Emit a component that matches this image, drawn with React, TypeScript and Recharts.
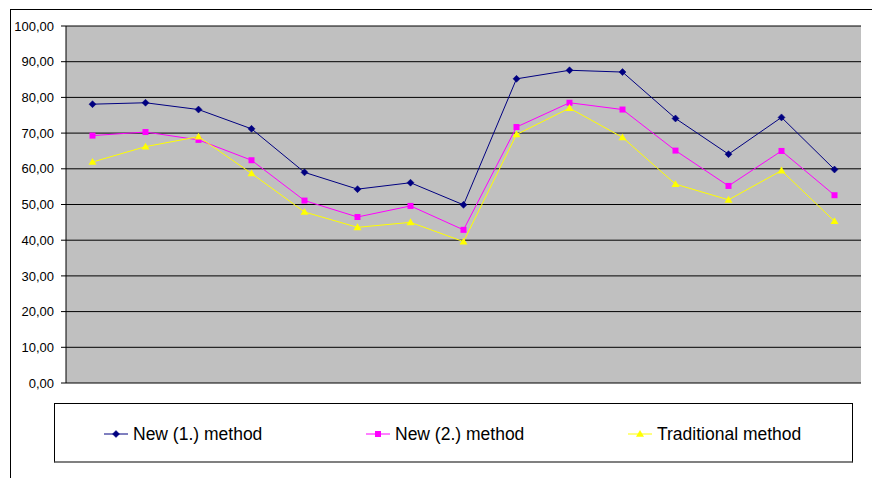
import React from 'react';
import { LineChart, Line, XAxis, YAxis, CartesianGrid, Legend, Customized } from 'recharts';

const categories = ['1', '2', '3', '4', '5', '6', '7', '8', '9', '10', '11', '12', '13', '14', '15'];
const new1 = [78.1, 78.5, 76.6, 71.2, 59.0, 54.3, 56.1, 49.9, 85.2, 87.6, 87.1, 74.1, 64.1, 74.4, 59.8];
const new2 = [69.3, 70.3, 68.1, 62.4, 51.1, 46.5, 49.6, 42.9, 71.7, 78.5, 76.6, 65.1, 55.2, 65.0, 52.6];
const traditional = [61.9, 66.2, 69.0, 58.7, 47.9, 43.6, 45.0, 39.6, 69.6, 77.0, 68.8, 55.7, 51.3, 59.5, 45.3];
const yTicks = [0, 10, 20, 30, 40, 50, 60, 70, 80, 90, 100];
const seriesNames = ['New (1.) method', 'New (2.) method', 'Traditional method'];
const seriesColors = ['#000080', '#FF00FF', '#FFFF00'];

const data = categories.map((c, i) => ({ cat: c, a: new1[i], b: new2[i], c: traditional[i] }));

const FONT = '"Liberation Sans", Arial, sans-serif';

const Diamond = (props: any) => {
  const { cx, cy, fill } = props;
  if (cx == null || cy == null) return null;
  const r = 3.5;
  return <path d={`M${cx},${cy - r}L${cx + r},${cy}L${cx},${cy + r}L${cx - r},${cy}Z`} fill={fill} stroke={fill} strokeWidth={0.5} />;
};
const Square = (props: any) => {
  const { cx, cy, fill } = props;
  if (cx == null || cy == null) return null;
  const r = 3;
  return <rect x={cx - r} y={cy - r} width={2 * r} height={2 * r} fill={fill} />;
};
const Triangle = (props: any) => {
  const { cx, cy, fill } = props;
  if (cx == null || cy == null) return null;
  const r = 4;
  return <path d={`M${cx},${cy - r}L${cx + r},${cy + r * 0.7}L${cx - r},${cy + r * 0.7}Z`} fill={fill} />;
};
const markers = [Diamond, Square, Triangle];

const LegendContent = () => (
  <div
    style={{
      boxSizing: 'border-box',
      width: 799,
      height: 60,
      border: '1px solid #000',
      borderBottom: '2px solid #808080',
      background: '#fff',
      position: 'relative',
      fontFamily: FONT,
      fontSize: 17.5,
    }}
  >
    {seriesNames.map((n, i) => {
      const M = markers[i];
      return (
        <div key={n} style={{ position: 'absolute', left: 49 + i * 262, top: 19, height: 22, display: 'flex', alignItems: 'center' }}>
          <svg width={24} height={10} style={{ display: 'block' }}>
            <line x1={0} y1={5} x2={24} y2={5} stroke={seriesColors[i]} strokeWidth={1} />
            <M cx={12} cy={5} fill={seriesColors[i]} />
          </svg>
          <span style={{ marginLeft: 5, color: '#000', whiteSpace: 'nowrap' }}>{n}</span>
        </div>
      );
    })}
  </div>
);

const PlotBorder = (props: any) => {
  const off = props.offset || {};
  const { left, top, width, height } = off;
  if (left == null) return null;
  return (
    <g>
      <line x1={left} y1={top + 0.5} x2={left + width} y2={top + 0.5} stroke="#808080" strokeWidth={1} />
      <line x1={left + width - 0.5} y1={top} x2={left + width - 0.5} y2={top + height} stroke="#808080" strokeWidth={1.5} />
    </g>
  );
};

export default function App() {
  return (
    <div style={{ position: 'fixed', left: 0, top: 0, width: 872, height: 478, overflow: 'hidden', background: '#fff' }}>
      <div style={{ position: 'absolute', left: 10, top: 9, width: 1000, height: 1000, border: '1px solid #000', boxSizing: 'border-box' }} />
      <div style={{ position: 'absolute', left: 0, top: 0 }}>
        <LineChart width={872} height={478} data={data} margin={{ top: 26, right: 11, bottom: 35, left: 0 }}>
          <CartesianGrid horizontal vertical={false} fill="#C0C0C0" stroke="#000" strokeOpacity={1} fillOpacity={1} />
          <XAxis dataKey="cat" hide padding={{ left: 26.5, right: 26.5 }} />
          <YAxis
            width={66}
            domain={[0, 100]}
            ticks={yTicks}
            interval={0}
            tickFormatter={(v: number) => v.toFixed(2).replace('.', ',')}
            tick={{ fill: '#000', fontSize: 13, fontFamily: FONT }}
            tickSize={5}
            tickMargin={7}
            axisLine={{ stroke: '#000' }}
            tickLine={{ stroke: '#000' }}
          />
          <Customized component={PlotBorder} />
          <Line dataKey="a" name={seriesNames[0]} stroke={seriesColors[0]} strokeWidth={1} dot={<Diamond fill={seriesColors[0]} />} activeDot={false} isAnimationActive={false} />
          <Line dataKey="b" name={seriesNames[1]} stroke={seriesColors[1]} strokeWidth={1} dot={<Square fill={seriesColors[1]} />} activeDot={false} isAnimationActive={false} />
          <Line dataKey="c" name={seriesNames[2]} stroke={seriesColors[2]} strokeWidth={1} dot={<Triangle fill={seriesColors[2]} />} activeDot={false} isAnimationActive={false} />
          <Legend
            content={<LegendContent />}
            wrapperStyle={{ position: 'absolute', left: 54, top: 403, bottom: 'auto', width: 799, height: 60 }}
          />
        </LineChart>
      </div>
    </div>
  );
}
